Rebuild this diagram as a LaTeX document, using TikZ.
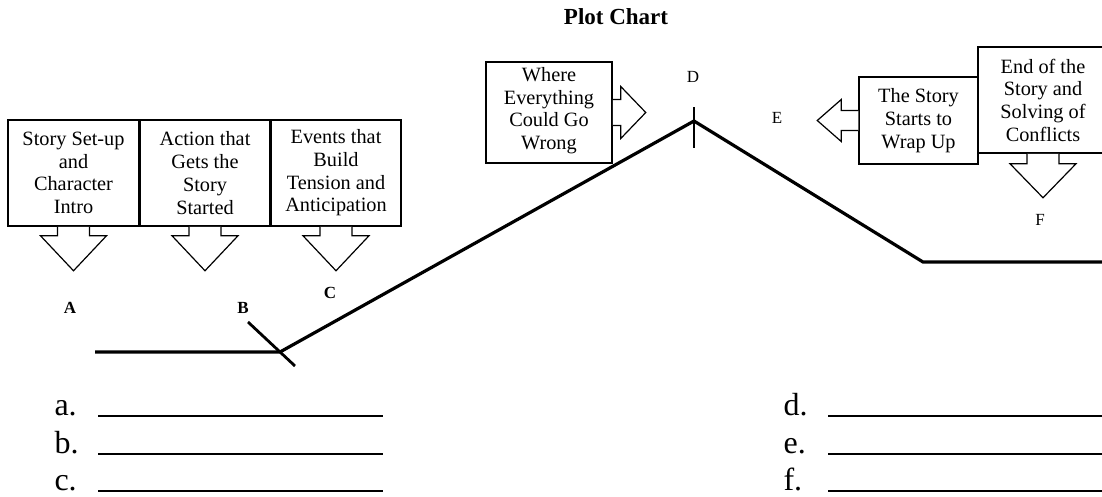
\documentclass[tikz,border=0pt]{standalone}
\usepackage{fontspec}
\setmainfont{Liberation Serif}
\usetikzlibrary{positioning}

\tikzset{
  stage/.style={draw, line width=1.5pt, fill=white, align=center, inner sep=0pt,
    minimum width=130pt, minimum height=106pt, font=\fontsize{20.3}{22.7}\selectfont},
  blockarrow/.style={draw, fill=white, line width=1.2pt},
  plotline/.style={line width=3.2pt},
  tickmark/.style={line width=2.8pt},
  point/.style={font=\fontsize{17}{20}\selectfont},
  answer/.style={anchor=base west, font=\fontsize{32}{36}\selectfont},
  blank/.style={line width=2pt}
}

\begin{document}
\begin{tikzpicture}[x=1pt, y=-1pt]
\useasboundingbox (0,0) rectangle (1102,496);

% title
\node [font=\fontsize{23}{26}\selectfont\bfseries] (title) at (616,17) {Plot Chart};

% boxes on the left
\node [stage, minimum width=131pt] (setup) at (73.5,173) {Story Set-up\\and\\Character\\Intro};
\node [stage, minimum width=129pt, right=0pt of setup] (rising) {Action that\\Gets the\\Story\\Started};
\node [stage, minimum width=130pt, right=0pt of rising] (tension) {Events that\\Build\\Tension and\\Anticipation};
\foreach \s in {setup, rising, tension}
\draw [blockarrow, shift={(\s.south)}] (-16,0) -- (-16,9) -- (-33,9) -- (0,44) -- (33,9) -- (16,9) -- (16,0);

% climax box
\node [stage, minimum width=126pt, minimum height=101pt, text depth=8pt] (climax) at (549,112.5) {Where\\Everything\\Could Go\\Wrong};
\draw [blockarrow, shift={(climax.east)}] (0,-13) -- (8,-13) -- (8,-26) -- (33,0) -- (8,26) -- (8,13) -- (0,13);

% falling and ending boxes
\node [stage, minimum width=130pt] (ending) at (1043,100) {End of the\\Story and\\Solving of\\Conflicts};
\node [stage, minimum width=119pt, minimum height=87pt, left=0pt of ending.east, anchor=east, xshift=-130pt, yshift=-20.5pt] (falling) {The Story\\Starts to\\Wrap Up};
\draw [blockarrow, shift={(falling.west)}] (0,-10) -- (-17,-10) -- (-17,-21) -- (-41,0) -- (-17,21) -- (-17,10) -- (0,10);
\draw [blockarrow, shift={(ending.south)}] (-16,0) -- (-16,10) -- (-33,10) -- (0,44) -- (33,10) -- (16,10) -- (16,0);

% the plot line
\coordinate (start) at (95,352);
\coordinate (b) at (280,352);
\coordinate (d) at (694,121);
\coordinate (e) at (923,262);
\coordinate (finish) at (1102,262);
\draw [plotline] (start) -- (b) -- (d) -- (e) -- (finish);
\draw [tickmark, shift={(b)}] (-32,-30) -- (15,14);
\draw [tickmark, shift={(d)}] (0,-14) -- (0,27);

% letters
\node [point, font=\fontsize{17}{20}\selectfont\bfseries] (A) at (70,308) {A};
\node [point, font=\fontsize{17}{20}\selectfont\bfseries] (B) at (243,308) {B};
\node [point, font=\fontsize{17}{20}\selectfont\bfseries] (C) at (330,293) {C};
\node [point] (D) at (693,77) {D};
\node [point] (E) at (777,118) {E};
\node [point] (F) at (1040,220) {F};

% answer lines
\foreach \l/\y in {a/415, b/453, c/490} {
  \node [answer] (ans\l) at (51,\y) {\l.};
  \draw [blank] (98,\y+1) -- (383,\y+1);
}
\foreach \l/\y in {d/415, e/453, f/490} {
  \node [answer] (ans\l) at (780,\y) {\l.};
  \draw [blank] (828,\y+1) -- (1102,\y+1);
}
\end{tikzpicture}
\end{document}
